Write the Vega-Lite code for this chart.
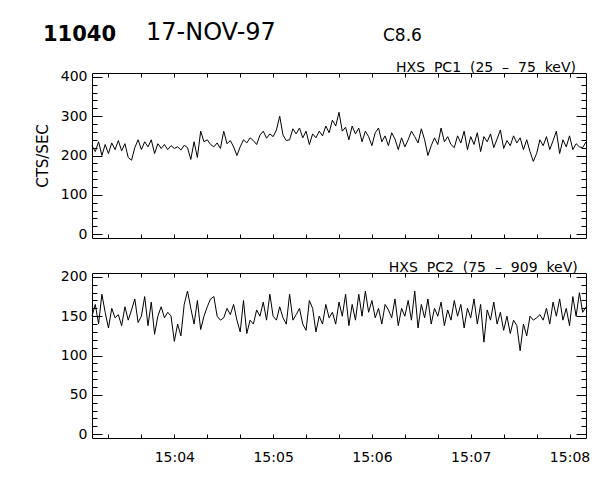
{
"$schema":"https://vega.github.io/schema/vega-lite/v6.json",
"background":"white",
"padding":{"left":35,"top":20,"right":5,"bottom":5},
"config":{"font":"DejaVu Sans","view":{"stroke":null},
"axis":{"domainColor":"black","domainWidth":1,"tickColor":"black","tickWidth":1,"labelColor":"black","labelFont":"DejaVu Sans","labelFontSize":14,"labelOverlap":false,"labelFlush":false,"grid":false,"titleColor":"black","titleFont":"DejaVu Sans","titleFontWeight":"normal"},
"title":{"color":"black","font":"DejaVu Sans","fontWeight":"normal","anchor":"start"}},
"datasets":{"hxs":[
{"time":"1997-11-17T15:03:10","pc1":225,"pc2":150},
{"time":"1997-11-17T15:03:12","pc1":210,"pc2":165},
{"time":"1997-11-17T15:03:14","pc1":235,"pc2":140},
{"time":"1997-11-17T15:03:16","pc1":200,"pc2":178},
{"time":"1997-11-17T15:03:18","pc1":228,"pc2":155},
{"time":"1997-11-17T15:03:20","pc1":205,"pc2":135},
{"time":"1997-11-17T15:03:22","pc1":232,"pc2":160},
{"time":"1997-11-17T15:03:24","pc1":215,"pc2":148},
{"time":"1997-11-17T15:03:26","pc1":238,"pc2":152},
{"time":"1997-11-17T15:03:28","pc1":212,"pc2":138},
{"time":"1997-11-17T15:03:30","pc1":230,"pc2":162},
{"time":"1997-11-17T15:03:32","pc1":195,"pc2":145},
{"time":"1997-11-17T15:03:34","pc1":188,"pc2":158},
{"time":"1997-11-17T15:03:36","pc1":220,"pc2":172},
{"time":"1997-11-17T15:03:38","pc1":240,"pc2":142},
{"time":"1997-11-17T15:03:40","pc1":215,"pc2":150},
{"time":"1997-11-17T15:03:42","pc1":235,"pc2":175},
{"time":"1997-11-17T15:03:44","pc1":222,"pc2":138},
{"time":"1997-11-17T15:03:46","pc1":240,"pc2":168},
{"time":"1997-11-17T15:03:48","pc1":205,"pc2":127},
{"time":"1997-11-17T15:03:50","pc1":230,"pc2":150},
{"time":"1997-11-17T15:03:52","pc1":218,"pc2":162},
{"time":"1997-11-17T15:03:54","pc1":228,"pc2":148},
{"time":"1997-11-17T15:03:56","pc1":215,"pc2":155},
{"time":"1997-11-17T15:03:58","pc1":225,"pc2":150},
{"time":"1997-11-17T15:04:00","pc1":218,"pc2":118},
{"time":"1997-11-17T15:04:02","pc1":222,"pc2":140},
{"time":"1997-11-17T15:04:04","pc1":214,"pc2":125},
{"time":"1997-11-17T15:04:06","pc1":226,"pc2":165},
{"time":"1997-11-17T15:04:08","pc1":220,"pc2":182},
{"time":"1997-11-17T15:04:10","pc1":190,"pc2":160},
{"time":"1997-11-17T15:04:12","pc1":235,"pc2":140},
{"time":"1997-11-17T15:04:14","pc1":195,"pc2":170},
{"time":"1997-11-17T15:04:16","pc1":262,"pc2":133},
{"time":"1997-11-17T15:04:18","pc1":235,"pc2":150},
{"time":"1997-11-17T15:04:20","pc1":240,"pc2":162},
{"time":"1997-11-17T15:04:22","pc1":228,"pc2":172},
{"time":"1997-11-17T15:04:24","pc1":222,"pc2":175},
{"time":"1997-11-17T15:04:26","pc1":232,"pc2":150},
{"time":"1997-11-17T15:04:28","pc1":218,"pc2":145},
{"time":"1997-11-17T15:04:30","pc1":262,"pc2":148},
{"time":"1997-11-17T15:04:32","pc1":230,"pc2":160},
{"time":"1997-11-17T15:04:34","pc1":238,"pc2":152},
{"time":"1997-11-17T15:04:36","pc1":222,"pc2":165},
{"time":"1997-11-17T15:04:38","pc1":200,"pc2":145},
{"time":"1997-11-17T15:04:40","pc1":222,"pc2":130},
{"time":"1997-11-17T15:04:42","pc1":240,"pc2":170},
{"time":"1997-11-17T15:04:44","pc1":232,"pc2":128},
{"time":"1997-11-17T15:04:46","pc1":245,"pc2":145},
{"time":"1997-11-17T15:04:48","pc1":238,"pc2":140},
{"time":"1997-11-17T15:04:50","pc1":228,"pc2":158},
{"time":"1997-11-17T15:04:52","pc1":252,"pc2":150},
{"time":"1997-11-17T15:04:54","pc1":262,"pc2":168},
{"time":"1997-11-17T15:04:56","pc1":244,"pc2":145},
{"time":"1997-11-17T15:04:58","pc1":255,"pc2":178},
{"time":"1997-11-17T15:05:00","pc1":248,"pc2":150},
{"time":"1997-11-17T15:05:02","pc1":265,"pc2":145},
{"time":"1997-11-17T15:05:04","pc1":300,"pc2":162},
{"time":"1997-11-17T15:05:06","pc1":252,"pc2":148},
{"time":"1997-11-17T15:05:08","pc1":238,"pc2":140},
{"time":"1997-11-17T15:05:10","pc1":240,"pc2":178},
{"time":"1997-11-17T15:05:12","pc1":268,"pc2":145},
{"time":"1997-11-17T15:05:14","pc1":255,"pc2":152},
{"time":"1997-11-17T15:05:16","pc1":270,"pc2":160},
{"time":"1997-11-17T15:05:18","pc1":245,"pc2":140},
{"time":"1997-11-17T15:05:20","pc1":262,"pc2":132},
{"time":"1997-11-17T15:05:22","pc1":228,"pc2":170},
{"time":"1997-11-17T15:05:24","pc1":255,"pc2":160},
{"time":"1997-11-17T15:05:26","pc1":245,"pc2":130},
{"time":"1997-11-17T15:05:28","pc1":262,"pc2":150},
{"time":"1997-11-17T15:05:30","pc1":250,"pc2":140},
{"time":"1997-11-17T15:05:32","pc1":275,"pc2":165},
{"time":"1997-11-17T15:05:34","pc1":258,"pc2":148},
{"time":"1997-11-17T15:05:36","pc1":290,"pc2":155},
{"time":"1997-11-17T15:05:38","pc1":275,"pc2":140},
{"time":"1997-11-17T15:05:40","pc1":310,"pc2":168},
{"time":"1997-11-17T15:05:42","pc1":262,"pc2":150},
{"time":"1997-11-17T15:05:44","pc1":272,"pc2":178},
{"time":"1997-11-17T15:05:46","pc1":240,"pc2":138},
{"time":"1997-11-17T15:05:48","pc1":275,"pc2":165},
{"time":"1997-11-17T15:05:50","pc1":255,"pc2":145},
{"time":"1997-11-17T15:05:52","pc1":270,"pc2":178},
{"time":"1997-11-17T15:05:54","pc1":235,"pc2":150},
{"time":"1997-11-17T15:05:56","pc1":262,"pc2":182},
{"time":"1997-11-17T15:05:58","pc1":248,"pc2":155},
{"time":"1997-11-17T15:06:00","pc1":225,"pc2":170},
{"time":"1997-11-17T15:06:02","pc1":258,"pc2":148},
{"time":"1997-11-17T15:06:04","pc1":270,"pc2":160},
{"time":"1997-11-17T15:06:06","pc1":235,"pc2":140},
{"time":"1997-11-17T15:06:08","pc1":250,"pc2":165},
{"time":"1997-11-17T15:06:10","pc1":225,"pc2":158},
{"time":"1997-11-17T15:06:12","pc1":258,"pc2":148},
{"time":"1997-11-17T15:06:14","pc1":242,"pc2":172},
{"time":"1997-11-17T15:06:16","pc1":215,"pc2":138},
{"time":"1997-11-17T15:06:18","pc1":245,"pc2":160},
{"time":"1997-11-17T15:06:20","pc1":222,"pc2":150},
{"time":"1997-11-17T15:06:22","pc1":240,"pc2":170},
{"time":"1997-11-17T15:06:24","pc1":262,"pc2":145},
{"time":"1997-11-17T15:06:26","pc1":248,"pc2":182},
{"time":"1997-11-17T15:06:28","pc1":232,"pc2":135},
{"time":"1997-11-17T15:06:30","pc1":268,"pc2":165},
{"time":"1997-11-17T15:06:32","pc1":240,"pc2":148},
{"time":"1997-11-17T15:06:34","pc1":200,"pc2":172},
{"time":"1997-11-17T15:06:36","pc1":225,"pc2":140},
{"time":"1997-11-17T15:06:38","pc1":245,"pc2":160},
{"time":"1997-11-17T15:06:40","pc1":228,"pc2":150},
{"time":"1997-11-17T15:06:42","pc1":270,"pc2":168},
{"time":"1997-11-17T15:06:44","pc1":235,"pc2":138},
{"time":"1997-11-17T15:06:46","pc1":248,"pc2":158},
{"time":"1997-11-17T15:06:48","pc1":228,"pc2":145},
{"time":"1997-11-17T15:06:50","pc1":220,"pc2":170},
{"time":"1997-11-17T15:06:52","pc1":250,"pc2":150},
{"time":"1997-11-17T15:06:54","pc1":232,"pc2":165},
{"time":"1997-11-17T15:06:56","pc1":262,"pc2":135},
{"time":"1997-11-17T15:06:58","pc1":215,"pc2":160},
{"time":"1997-11-17T15:07:00","pc1":248,"pc2":148},
{"time":"1997-11-17T15:07:02","pc1":228,"pc2":172},
{"time":"1997-11-17T15:07:04","pc1":258,"pc2":140},
{"time":"1997-11-17T15:07:06","pc1":210,"pc2":165},
{"time":"1997-11-17T15:07:08","pc1":248,"pc2":117},
{"time":"1997-11-17T15:07:10","pc1":235,"pc2":158},
{"time":"1997-11-17T15:07:12","pc1":255,"pc2":145},
{"time":"1997-11-17T15:07:14","pc1":220,"pc2":168},
{"time":"1997-11-17T15:07:16","pc1":242,"pc2":140},
{"time":"1997-11-17T15:07:18","pc1":265,"pc2":155},
{"time":"1997-11-17T15:07:20","pc1":218,"pc2":132},
{"time":"1997-11-17T15:07:22","pc1":238,"pc2":150},
{"time":"1997-11-17T15:07:24","pc1":225,"pc2":128},
{"time":"1997-11-17T15:07:26","pc1":250,"pc2":145},
{"time":"1997-11-17T15:07:28","pc1":232,"pc2":138},
{"time":"1997-11-17T15:07:30","pc1":245,"pc2":106},
{"time":"1997-11-17T15:07:32","pc1":215,"pc2":140},
{"time":"1997-11-17T15:07:34","pc1":240,"pc2":125},
{"time":"1997-11-17T15:07:36","pc1":210,"pc2":150},
{"time":"1997-11-17T15:07:38","pc1":185,"pc2":145},
{"time":"1997-11-17T15:07:40","pc1":205,"pc2":148},
{"time":"1997-11-17T15:07:42","pc1":240,"pc2":152},
{"time":"1997-11-17T15:07:44","pc1":225,"pc2":145},
{"time":"1997-11-17T15:07:46","pc1":248,"pc2":160},
{"time":"1997-11-17T15:07:48","pc1":215,"pc2":140},
{"time":"1997-11-17T15:07:50","pc1":238,"pc2":168},
{"time":"1997-11-17T15:07:52","pc1":262,"pc2":150},
{"time":"1997-11-17T15:07:54","pc1":205,"pc2":172},
{"time":"1997-11-17T15:07:56","pc1":240,"pc2":145},
{"time":"1997-11-17T15:07:58","pc1":222,"pc2":160},
{"time":"1997-11-17T15:08:00","pc1":250,"pc2":138},
{"time":"1997-11-17T15:08:02","pc1":215,"pc2":175},
{"time":"1997-11-17T15:08:04","pc1":230,"pc2":150},
{"time":"1997-11-17T15:08:06","pc1":222,"pc2":180},
{"time":"1997-11-17T15:08:08","pc1":220,"pc2":155},
{"time":"1997-11-17T15:08:10","pc1":235,"pc2":162}
]},
"bounds":"flush",
"spacing":35,
"vconcat":[
{"hconcat":[
{"width":54,"height":1,"title":{"text":"11040","fontSize":21,"fontWeight":"bold","dx":-49,"offset":-9},"data":{"values":[{"k":1}]},"mark":{"type":"point","opacity":0},"encoding":{}},
{"width":237,"height":1,"title":{"text":"17-NOV-97","fontSize":24,"offset":-9},"data":{"values":[{"k":1}]},"mark":{"type":"point","opacity":0},"encoding":{}},
{"width":60,"height":1,"title":{"text":"C8.6","fontSize":17,"offset":-9},"data":{"values":[{"k":1}]},"mark":{"type":"point","opacity":0},"encoding":{}}
],"spacing":0,"bounds":"flush"},
{"width":494,"height":165,
"title":{"text":"HXS \u00a0PC1 \u00a0(25 \u00a0– \u00a075 \u00a0keV)","anchor":"end","fontSize":14,"offset":-5,"dx":-12},
"data":{"name":"hxs"},
"layer":[
{"mark":{"type":"line","color":"black","strokeWidth":1},
"encoding":{
"x":{"field":"time","type":"temporal","scale":{"domain":[{"year":1997,"month":11,"date":17,"hours":15,"minutes":3,"seconds":10},{"year":1997,"month":11,"date":17,"hours":15,"minutes":8,"seconds":10}],"nice":false},
"axis":{"orient":"bottom","title":null,"labels":false,"tickSize":-4,"values":[{"year":1997,"month":11,"date":17,"hours":15,"minutes":3,"seconds":20},{"year":1997,"month":11,"date":17,"hours":15,"minutes":3,"seconds":40},{"year":1997,"month":11,"date":17,"hours":15,"minutes":4,"seconds":0},{"year":1997,"month":11,"date":17,"hours":15,"minutes":4,"seconds":20},{"year":1997,"month":11,"date":17,"hours":15,"minutes":4,"seconds":40},{"year":1997,"month":11,"date":17,"hours":15,"minutes":5,"seconds":0},{"year":1997,"month":11,"date":17,"hours":15,"minutes":5,"seconds":20},{"year":1997,"month":11,"date":17,"hours":15,"minutes":5,"seconds":40},{"year":1997,"month":11,"date":17,"hours":15,"minutes":6,"seconds":0},{"year":1997,"month":11,"date":17,"hours":15,"minutes":6,"seconds":20},{"year":1997,"month":11,"date":17,"hours":15,"minutes":6,"seconds":40},{"year":1997,"month":11,"date":17,"hours":15,"minutes":7,"seconds":0},{"year":1997,"month":11,"date":17,"hours":15,"minutes":7,"seconds":20},{"year":1997,"month":11,"date":17,"hours":15,"minutes":7,"seconds":40},{"year":1997,"month":11,"date":17,"hours":15,"minutes":8,"seconds":0}]}},
"y":{"field":"pc1","type":"quantitative","scale":{"domain":[-10,410],"nice":false,"zero":false},
"axis":{"orient":"left","title":"CTS/SEC","titleFontSize":15,"titlePadding":10,"values":[0,20,40,60,80,100,120,140,160,180,200,220,240,260,280,300,320,340,360,380,400],"tickSize":{"condition":{"test":"datum.value % 100 === 0","value":-10},"value":-5},"labelExpr":"datum.value % 100 === 0 ? datum.label : ''","labelPadding":15}}}},
{"mark":{"type":"line","color":"black","strokeOpacity":0},
"encoding":{
"x":{"field":"time","type":"temporal","scale":{"domain":[{"year":1997,"month":11,"date":17,"hours":15,"minutes":3,"seconds":10},{"year":1997,"month":11,"date":17,"hours":15,"minutes":8,"seconds":10}],"nice":false},
"axis":{"orient":"top","title":null,"labels":false,"tickSize":-4,"values":[{"year":1997,"month":11,"date":17,"hours":15,"minutes":3,"seconds":20},{"year":1997,"month":11,"date":17,"hours":15,"minutes":3,"seconds":40},{"year":1997,"month":11,"date":17,"hours":15,"minutes":4,"seconds":0},{"year":1997,"month":11,"date":17,"hours":15,"minutes":4,"seconds":20},{"year":1997,"month":11,"date":17,"hours":15,"minutes":4,"seconds":40},{"year":1997,"month":11,"date":17,"hours":15,"minutes":5,"seconds":0},{"year":1997,"month":11,"date":17,"hours":15,"minutes":5,"seconds":20},{"year":1997,"month":11,"date":17,"hours":15,"minutes":5,"seconds":40},{"year":1997,"month":11,"date":17,"hours":15,"minutes":6,"seconds":0},{"year":1997,"month":11,"date":17,"hours":15,"minutes":6,"seconds":20},{"year":1997,"month":11,"date":17,"hours":15,"minutes":6,"seconds":40},{"year":1997,"month":11,"date":17,"hours":15,"minutes":7,"seconds":0},{"year":1997,"month":11,"date":17,"hours":15,"minutes":7,"seconds":20},{"year":1997,"month":11,"date":17,"hours":15,"minutes":7,"seconds":40},{"year":1997,"month":11,"date":17,"hours":15,"minutes":8,"seconds":0}]}},
"y":{"field":"pc1","type":"quantitative","scale":{"domain":[-10,410],"nice":false,"zero":false},
"axis":{"orient":"right","title":null,"labels":false,"values":[0,20,40,60,80,100,120,140,160,180,200,220,240,260,280,300,320,340,360,380,400],"tickSize":{"condition":{"test":"datum.value % 100 === 0","value":-10},"value":-5}}}}}
],
"resolve":{"axis":{"x":"independent","y":"independent"}}
},
{"width":494,"height":165,
"title":{"text":"HXS \u00a0PC2 \u00a0(75 \u00a0– \u00a0909 \u00a0keV)","anchor":"end","fontSize":14,"offset":-5,"dx":-12},
"data":{"name":"hxs"},
"layer":[
{"mark":{"type":"line","color":"black","strokeWidth":1},
"encoding":{
"x":{"field":"time","type":"temporal","scale":{"domain":[{"year":1997,"month":11,"date":17,"hours":15,"minutes":3,"seconds":10},{"year":1997,"month":11,"date":17,"hours":15,"minutes":8,"seconds":10}],"nice":false},
"axis":{"orient":"bottom","title":null,"format":"%H:%M","labelExpr":"seconds(datum.value) === 0 ? datum.label : ''","tickSize":-4,"labelPadding":16,"values":[{"year":1997,"month":11,"date":17,"hours":15,"minutes":3,"seconds":20},{"year":1997,"month":11,"date":17,"hours":15,"minutes":3,"seconds":40},{"year":1997,"month":11,"date":17,"hours":15,"minutes":4,"seconds":0},{"year":1997,"month":11,"date":17,"hours":15,"minutes":4,"seconds":20},{"year":1997,"month":11,"date":17,"hours":15,"minutes":4,"seconds":40},{"year":1997,"month":11,"date":17,"hours":15,"minutes":5,"seconds":0},{"year":1997,"month":11,"date":17,"hours":15,"minutes":5,"seconds":20},{"year":1997,"month":11,"date":17,"hours":15,"minutes":5,"seconds":40},{"year":1997,"month":11,"date":17,"hours":15,"minutes":6,"seconds":0},{"year":1997,"month":11,"date":17,"hours":15,"minutes":6,"seconds":20},{"year":1997,"month":11,"date":17,"hours":15,"minutes":6,"seconds":40},{"year":1997,"month":11,"date":17,"hours":15,"minutes":7,"seconds":0},{"year":1997,"month":11,"date":17,"hours":15,"minutes":7,"seconds":20},{"year":1997,"month":11,"date":17,"hours":15,"minutes":7,"seconds":40},{"year":1997,"month":11,"date":17,"hours":15,"minutes":8,"seconds":0}]}},
"y":{"field":"pc2","type":"quantitative","scale":{"domain":[-5,205],"nice":false,"zero":false},
"axis":{"orient":"left","title":null,"values":[0,10,20,30,40,50,60,70,80,90,100,110,120,130,140,150,160,170,180,190,200],"tickSize":{"condition":{"test":"datum.value % 50 === 0","value":-10},"value":-5},"labelExpr":"datum.value % 50 === 0 ? datum.label : ''","labelPadding":15}}}},
{"mark":{"type":"line","color":"black","strokeOpacity":0},
"encoding":{
"x":{"field":"time","type":"temporal","scale":{"domain":[{"year":1997,"month":11,"date":17,"hours":15,"minutes":3,"seconds":10},{"year":1997,"month":11,"date":17,"hours":15,"minutes":8,"seconds":10}],"nice":false},
"axis":{"orient":"top","title":null,"labels":false,"tickSize":-4,"values":[{"year":1997,"month":11,"date":17,"hours":15,"minutes":3,"seconds":20},{"year":1997,"month":11,"date":17,"hours":15,"minutes":3,"seconds":40},{"year":1997,"month":11,"date":17,"hours":15,"minutes":4,"seconds":0},{"year":1997,"month":11,"date":17,"hours":15,"minutes":4,"seconds":20},{"year":1997,"month":11,"date":17,"hours":15,"minutes":4,"seconds":40},{"year":1997,"month":11,"date":17,"hours":15,"minutes":5,"seconds":0},{"year":1997,"month":11,"date":17,"hours":15,"minutes":5,"seconds":20},{"year":1997,"month":11,"date":17,"hours":15,"minutes":5,"seconds":40},{"year":1997,"month":11,"date":17,"hours":15,"minutes":6,"seconds":0},{"year":1997,"month":11,"date":17,"hours":15,"minutes":6,"seconds":20},{"year":1997,"month":11,"date":17,"hours":15,"minutes":6,"seconds":40},{"year":1997,"month":11,"date":17,"hours":15,"minutes":7,"seconds":0},{"year":1997,"month":11,"date":17,"hours":15,"minutes":7,"seconds":20},{"year":1997,"month":11,"date":17,"hours":15,"minutes":7,"seconds":40},{"year":1997,"month":11,"date":17,"hours":15,"minutes":8,"seconds":0}]}},
"y":{"field":"pc2","type":"quantitative","scale":{"domain":[-5,205],"nice":false,"zero":false},
"axis":{"orient":"right","title":null,"labels":false,"values":[0,10,20,30,40,50,60,70,80,90,100,110,120,130,140,150,160,170,180,190,200],"tickSize":{"condition":{"test":"datum.value % 50 === 0","value":-10},"value":-5}}}}}
],
"resolve":{"axis":{"x":"independent","y":"independent"}}
}
]
}
